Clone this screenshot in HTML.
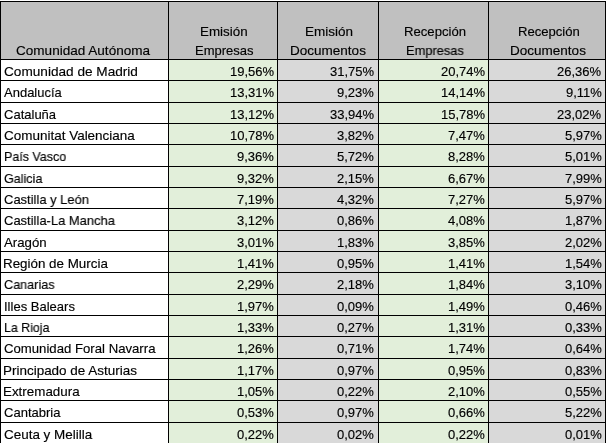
<!DOCTYPE html>
<html><head><meta charset="utf-8"><style>
html,body{margin:0;padding:0;background:#fff;width:606px;height:443px;overflow:hidden;position:relative}
div{position:absolute}
.t{position:absolute;will-change:transform;-webkit-text-stroke:0.15px #000;font-family:"Liberation Sans",sans-serif;font-size:13px;line-height:1;white-space:nowrap;color:#000;transform-origin:0 0}
</style></head><body>
<div style="left:0px;top:1px;width:606px;height:58px;background:#c0c0c0"></div>
<div style="left:0px;top:59px;width:168px;height:384px;background:#fff"></div>
<div style="left:168px;top:59px;width:109px;height:384px;background:#e2efda"></div>
<div style="left:277px;top:59px;width:101px;height:384px;background:#d9d9d9"></div>
<div style="left:378px;top:59px;width:110px;height:384px;background:#e2efda"></div>
<div style="left:488px;top:59px;width:117px;height:384px;background:#d9d9d9"></div>
<div style="left:0px;top:1px;width:1px;height:442px;background:#000"></div>
<div style="left:168px;top:1px;width:1px;height:442px;background:#000"></div>
<div style="left:277px;top:1px;width:1px;height:442px;background:#000"></div>
<div style="left:378px;top:1px;width:1px;height:442px;background:#000"></div>
<div style="left:488px;top:1px;width:1px;height:442px;background:#000"></div>
<div style="left:605px;top:1px;width:1px;height:442px;background:#000"></div>
<div style="left:0px;top:1px;width:606px;height:1px;background:#000"></div>
<div style="left:0px;top:59px;width:606px;height:1px;background:#000"></div>
<div style="left:0px;top:80px;width:606px;height:1px;background:#000"></div>
<div style="left:0px;top:102px;width:606px;height:1px;background:#000"></div>
<div style="left:0px;top:123px;width:606px;height:1px;background:#000"></div>
<div style="left:0px;top:144px;width:606px;height:1px;background:#000"></div>
<div style="left:0px;top:166px;width:606px;height:1px;background:#000"></div>
<div style="left:0px;top:187px;width:606px;height:1px;background:#000"></div>
<div style="left:0px;top:208px;width:606px;height:1px;background:#000"></div>
<div style="left:0px;top:230px;width:606px;height:1px;background:#000"></div>
<div style="left:0px;top:251px;width:606px;height:1px;background:#000"></div>
<div style="left:0px;top:272px;width:606px;height:1px;background:#000"></div>
<div style="left:0px;top:294px;width:606px;height:1px;background:#000"></div>
<div style="left:0px;top:315px;width:606px;height:1px;background:#000"></div>
<div style="left:0px;top:336px;width:606px;height:1px;background:#000"></div>
<div style="left:0px;top:358px;width:606px;height:1px;background:#000"></div>
<div style="left:0px;top:379px;width:606px;height:1px;background:#000"></div>
<div style="left:0px;top:400px;width:606px;height:1px;background:#000"></div>
<div style="left:0px;top:422px;width:606px;height:1px;background:#000"></div>
<span class="t" style="left:16.38px;top:44.23px;transform:scaleX(1.0420)">Comunidad Autónoma</span>
<span class="t" style="left:200.49px;top:25.23px;transform:scaleX(1.0293)">Emisión</span>
<span class="t" style="left:195.02px;top:44.23px;transform:scaleX(0.9920)">Empresas</span>
<span class="t" style="left:304.58px;top:25.23px;transform:scaleX(1.0383)">Emisión</span>
<span class="t" style="left:290.18px;top:44.23px;transform:scaleX(1.0401)">Documentos</span>
<span class="t" style="left:403.51px;top:25.23px;transform:scaleX(1.0097)">Recepción</span>
<span class="t" style="left:405.53px;top:44.23px;transform:scaleX(0.9885)">Empresas</span>
<span class="t" style="left:517.51px;top:25.23px;transform:scaleX(1.0064)">Recepción</span>
<span class="t" style="left:510.18px;top:44.23px;transform:scaleX(1.0401)">Documentos</span>
<span class="t" style="left:3.88px;top:65.23px;transform:scaleX(1.0470)">Comunidad de Madrid</span>
<span class="t" style="right:332.00px;top:65.23px">19,56%</span>
<span class="t" style="right:231.80px;top:65.23px">31,75%</span>
<span class="t" style="right:121.40px;top:65.23px">20,74%</span>
<span class="t" style="right:4.60px;top:65.23px">26,36%</span>
<span class="t" style="left:4.10px;top:86.23px;transform:scaleX(0.9982)">Andalucía</span>
<span class="t" style="right:332.00px;top:86.23px">13,31%</span>
<span class="t" style="right:231.80px;top:86.23px">9,23%</span>
<span class="t" style="right:121.40px;top:86.23px">14,14%</span>
<span class="t" style="right:4.60px;top:86.23px">9,11%</span>
<span class="t" style="left:3.90px;top:108.23px;transform:scaleX(1.0010)">Cataluña</span>
<span class="t" style="right:332.00px;top:108.23px">13,12%</span>
<span class="t" style="right:231.80px;top:108.23px">33,94%</span>
<span class="t" style="right:121.40px;top:108.23px">15,78%</span>
<span class="t" style="right:4.60px;top:108.23px">23,02%</span>
<span class="t" style="left:3.88px;top:129.24px;transform:scaleX(1.0364)">Comunitat Valenciana</span>
<span class="t" style="right:332.00px;top:129.24px">10,78%</span>
<span class="t" style="right:231.80px;top:129.24px">3,82%</span>
<span class="t" style="right:121.40px;top:129.24px">7,47%</span>
<span class="t" style="right:4.60px;top:129.24px">5,97%</span>
<span class="t" style="left:3.55px;top:150.24px;transform:scaleX(0.9605)">País Vasco</span>
<span class="t" style="right:332.00px;top:150.24px">9,36%</span>
<span class="t" style="right:231.80px;top:150.24px">5,72%</span>
<span class="t" style="right:121.40px;top:150.24px">8,28%</span>
<span class="t" style="right:4.60px;top:150.24px">5,01%</span>
<span class="t" style="left:3.92px;top:172.24px;transform:scaleX(0.9669)">Galicia</span>
<span class="t" style="right:332.00px;top:172.24px">9,32%</span>
<span class="t" style="right:231.80px;top:172.24px">2,15%</span>
<span class="t" style="right:121.40px;top:172.24px">6,67%</span>
<span class="t" style="right:4.60px;top:172.24px">7,99%</span>
<span class="t" style="left:3.91px;top:193.24px;transform:scaleX(0.9966)">Castilla y León</span>
<span class="t" style="right:332.00px;top:193.24px">7,19%</span>
<span class="t" style="right:231.80px;top:193.24px">4,32%</span>
<span class="t" style="right:121.40px;top:193.24px">7,27%</span>
<span class="t" style="right:4.60px;top:193.24px">5,97%</span>
<span class="t" style="left:3.91px;top:214.24px;transform:scaleX(0.9971)">Castilla-La Mancha</span>
<span class="t" style="right:332.00px;top:214.24px">3,12%</span>
<span class="t" style="right:231.80px;top:214.24px">0,86%</span>
<span class="t" style="right:121.40px;top:214.24px">4,08%</span>
<span class="t" style="right:4.60px;top:214.24px">1,87%</span>
<span class="t" style="left:4.10px;top:236.24px;transform:scaleX(1.0176)">Aragón</span>
<span class="t" style="right:332.00px;top:236.24px">3,01%</span>
<span class="t" style="right:231.80px;top:236.24px">1,83%</span>
<span class="t" style="right:121.40px;top:236.24px">3,85%</span>
<span class="t" style="right:4.60px;top:236.24px">2,02%</span>
<span class="t" style="left:3.49px;top:257.24px;transform:scaleX(1.0291)">Región de Murcia</span>
<span class="t" style="right:332.00px;top:257.24px">1,41%</span>
<span class="t" style="right:231.80px;top:257.24px">0,95%</span>
<span class="t" style="right:121.40px;top:257.24px">1,41%</span>
<span class="t" style="right:4.60px;top:257.24px">1,54%</span>
<span class="t" style="left:3.92px;top:278.24px;transform:scaleX(0.9727)">Canarias</span>
<span class="t" style="right:332.00px;top:278.24px">2,29%</span>
<span class="t" style="right:231.80px;top:278.24px">2,18%</span>
<span class="t" style="right:121.40px;top:278.24px">1,84%</span>
<span class="t" style="right:4.60px;top:278.24px">3,10%</span>
<span class="t" style="left:3.50px;top:300.24px;transform:scaleX(1.0013)">Illes Balears</span>
<span class="t" style="right:332.00px;top:300.24px">1,97%</span>
<span class="t" style="right:231.80px;top:300.24px">0,09%</span>
<span class="t" style="right:121.40px;top:300.24px">1,49%</span>
<span class="t" style="right:4.60px;top:300.24px">0,46%</span>
<span class="t" style="left:3.56px;top:321.24px;transform:scaleX(0.9529)">La Rioja</span>
<span class="t" style="right:332.00px;top:321.24px">1,33%</span>
<span class="t" style="right:231.80px;top:321.24px">0,27%</span>
<span class="t" style="right:121.40px;top:321.24px">1,31%</span>
<span class="t" style="right:4.60px;top:321.24px">0,33%</span>
<span class="t" style="left:3.90px;top:342.24px;transform:scaleX(1.0127)">Comunidad Foral Navarra</span>
<span class="t" style="right:332.00px;top:342.24px">1,26%</span>
<span class="t" style="right:231.80px;top:342.24px">0,71%</span>
<span class="t" style="right:121.40px;top:342.24px">1,74%</span>
<span class="t" style="right:4.60px;top:342.24px">0,64%</span>
<span class="t" style="left:3.48px;top:364.24px;transform:scaleX(1.0350)">Principado de Asturias</span>
<span class="t" style="right:332.00px;top:364.24px">1,17%</span>
<span class="t" style="right:231.80px;top:364.24px">0,97%</span>
<span class="t" style="right:121.40px;top:364.24px">0,95%</span>
<span class="t" style="right:4.60px;top:364.24px">0,83%</span>
<span class="t" style="left:3.49px;top:385.24px;transform:scaleX(1.0295)">Extremadura</span>
<span class="t" style="right:332.00px;top:385.24px">1,05%</span>
<span class="t" style="right:231.80px;top:385.24px">0,22%</span>
<span class="t" style="right:121.40px;top:385.24px">2,10%</span>
<span class="t" style="right:4.60px;top:385.24px">0,55%</span>
<span class="t" style="left:3.90px;top:406.24px;transform:scaleX(1.0017)">Cantabria</span>
<span class="t" style="right:332.00px;top:406.24px">0,53%</span>
<span class="t" style="right:231.80px;top:406.24px">0,97%</span>
<span class="t" style="right:121.40px;top:406.24px">0,66%</span>
<span class="t" style="right:4.60px;top:406.24px">5,22%</span>
<span class="t" style="left:3.88px;top:428.24px;transform:scaleX(1.0340)">Ceuta y Melilla</span>
<span class="t" style="right:332.00px;top:428.24px">0,22%</span>
<span class="t" style="right:231.80px;top:428.24px">0,02%</span>
<span class="t" style="right:121.40px;top:428.24px">0,22%</span>
<span class="t" style="right:4.60px;top:428.24px">0,01%</span>
</body></html>
